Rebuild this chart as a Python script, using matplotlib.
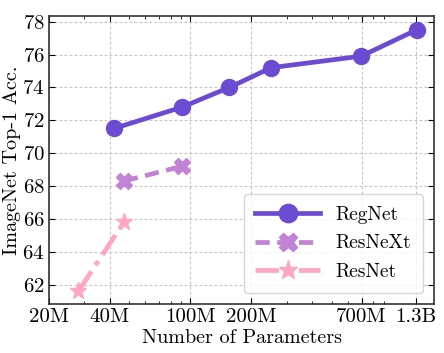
import matplotlib
matplotlib.use("Agg")
import matplotlib.pyplot as plt
from matplotlib.ticker import FixedLocator, FixedFormatter, LogLocator, NullFormatter

plt.rcParams["font.family"] = ["cmr10", "DejaVu Serif"]
plt.rcParams["axes.formatter.use_mathtext"] = True

# Data (parameters, top-1 accuracy)
regnet_params = [42e6, 91e6, 156e6, 251e6, 698e6, 1.31e9]
regnet_acc = [71.5, 72.8, 74.0, 75.2, 75.9, 77.5]
resnext_params = [47e6, 91e6]
resnext_acc = [68.3, 69.2]
resnet_params = [28e6, 47e6]
resnet_acc = [61.6, 65.8]

xtick_vals = [20e6, 40e6, 100e6, 200e6, 700e6, 1.3e9]
xtick_labels = ["20M", "40M", "100M", "200M", "700M", "1.3B"]
ytick_vals = [62, 64, 66, 68, 70, 72, 74, 76, 78]

fig, ax = plt.subplots(figsize=(4.44, 3.53), dpi=100)

ax.plot(regnet_params, regnet_acc, color="#6c4bd3", lw=3.4, marker="o",
        ms=11.5, label="RegNet", zorder=4)
ax.plot(resnext_params, resnext_acc, color="#c283d6", lw=3.4, ls=(0, (3, 1.6)),
        marker="X", ms=11.5, label="ResNeXt", zorder=3)
ax.plot(resnet_params, resnet_acc, color="#ffa6c0", lw=3.4, ls=(0, (5, 1.6, 1, 1.6)),
        marker="*", ms=12.5, label="ResNet", zorder=3)

ax.set_xscale("log")
ax.set_xlim(20e6, 1.6e9)
ax.set_ylim(60.8, 78.35)

ax.xaxis.set_major_locator(FixedLocator(xtick_vals))
ax.xaxis.set_major_formatter(FixedFormatter(xtick_labels))
ax.xaxis.set_minor_locator(LogLocator(base=10, subs=range(2, 10)))
ax.xaxis.set_minor_formatter(NullFormatter())
ax.set_yticks(ytick_vals)

ax.tick_params(which="both", direction="in", top=True, right=True, labelsize=15, pad=3)
ax.tick_params(which="major", length=4)
ax.tick_params(which="minor", length=2)

ax.grid(True, which="major", ls=(0, (2.5, 2)), color="#c4c4c4", lw=0.8)
for s in ax.spines.values():
    s.set_color("#333333")
    s.set_linewidth(1.2)

ax.set_xlabel("Number of Parameters", fontsize=14.5, labelpad=2)
ax.set_ylabel("ImageNet Top-1 Acc.", fontsize=14.5, labelpad=1)

leg = ax.legend(loc="lower right", fontsize=14, handlelength=3.3, markerscale=1.15,
                borderpad=0.6, labelspacing=0.55, handletextpad=0.8, fancybox=True,
                framealpha=0.8, edgecolor="#cccccc", borderaxespad=0.6)

fig.subplots_adjust(left=0.11, right=0.978, top=0.955, bottom=0.138)
fig.savefig("out.png", dpi=100)
